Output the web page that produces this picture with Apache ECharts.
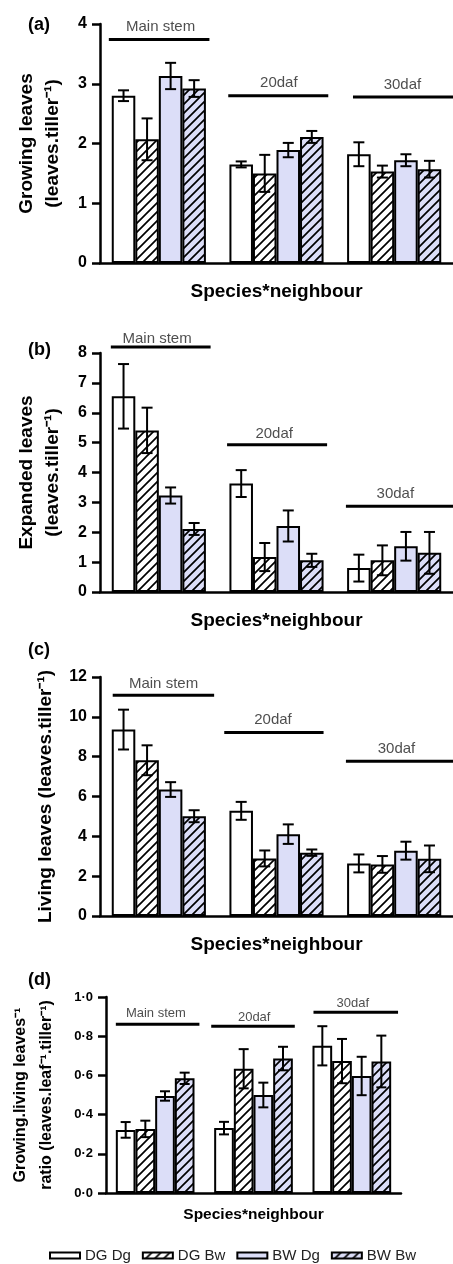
<!DOCTYPE html>
<html><head><meta charset="utf-8">
<script src="https://cdn.jsdelivr.net/npm/echarts@6/dist/echarts.min.js"></script>
<style>html,body{margin:0;padding:0;background:#fff}#c{width:453px;height:1264px}</style>
</head><body><div id="c"></div>
<script>
// ---------- DATA ----------
const categories = ['Main stem', '20daf', '30daf'];
const treatments = ['DG Dg', 'DG Bw', 'BW Dg', 'BW Bw'];

// (a) Growing leaves (per treatment, per category)
const growingMean = [[2.80, 1.65, 1.82], [2.07, 1.50, 1.53], [3.13, 1.89, 1.72], [2.92, 2.11, 1.57]];
const growingErr  = [[0.09, 0.05, 0.20], [0.35, 0.31, 0.10], [0.22, 0.12, 0.10], [0.14, 0.10, 0.14]];
// (b) Expanded leaves
const expandedMean = [[6.55, 3.63, 0.80], [5.41, 1.17, 1.06], [3.23, 2.21, 1.53], [2.11, 1.06, 1.31]];
const expandedErr  = [[1.08, 0.45, 0.45], [0.76, 0.47, 0.50], [0.27, 0.52, 0.48], [0.20, 0.22, 0.70]];
// (c) Living leaves
const livingMean = [[9.36, 5.28, 2.64], [7.82, 2.89, 2.59], [6.35, 4.11, 3.28], [5.01, 3.18, 2.87]];
const livingErr  = [[1.00, 0.45, 0.45], [0.75, 0.40, 0.42], [0.37, 0.49, 0.45], [0.30, 0.16, 0.67]];
// (d) Growing / living ratio
const ratioMean = [[0.322, 0.331, 0.751], [0.327, 0.634, 0.673], [0.495, 0.500, 0.597], [0.585, 0.686, 0.671]];
const ratioErr  = [[0.040, 0.032, 0.100], [0.042, 0.100, 0.113], [0.024, 0.063, 0.098], [0.029, 0.060, 0.132]];

// y-axis ranges [max, interval]
const yRangeA = [4, 1];
const yRangeB = [8, 1];
const yRangeC = [12, 2];
const yRangeD = [1, 0.2];

// group marker lines [start, end, y] on a 0..3 category-width scale, and label centers [x, y]
const groupLinesA = [[0.075, 0.93, 3.74], [1.09, 1.94, 2.80], [2.15, 3.0, 2.78]];
const groupTextA  = [[0.515, 3.955], [1.52, 3.01], [2.57, 2.98]];
const groupLinesB = [[0.092, 0.94, 8.20], [1.08, 1.93, 4.93], [2.09, 3.0, 2.87]];
const groupTextB  = [[0.485, 8.48], [1.48, 5.30], [2.51, 3.27]];
const groupLinesC = [[0.108, 0.97, 11.08], [1.056, 1.90, 9.21], [2.09, 3.0, 7.77]];
const groupTextC  = [[0.54, 11.67], [1.47, 9.83], [2.52, 8.41]];
const groupLinesD = [[0.10, 0.95, 0.861], [1.07, 1.92, 0.851], [2.11, 2.97, 0.922]];
const groupTextD  = [[0.507, 0.915], [1.507, 0.895], [2.51, 0.966]];

// ---------- STYLE ----------
const FONT = 'Liberation Sans, Arial, sans-serif';
const LAV = '#dcdef8';
function hatch(bg) {
  const s = 9, c = document.createElement('canvas');
  c.width = s; c.height = s;
  const g = c.getContext('2d');
  g.fillStyle = bg; g.fillRect(0, 0, s, s);
  g.strokeStyle = '#000'; g.lineWidth = 1.7;
  g.beginPath();
  g.moveTo(-1, s + 1); g.lineTo(s + 1, -1);
  g.moveTo(-2, 2); g.lineTo(2, -2);
  g.moveTo(s - 2, s + 2); g.lineTo(s + 2, s - 2);
  g.stroke();
  return { image: c, repeat: 'repeat' };
}
const fills = ['#ffffff', hatch('#ffffff'), LAV, hatch(LAV)];

const panels = [
  { mean: growingMean, err: growingErr, range: yRangeA, lines: groupLinesA, text: groupTextA,
    grid: { left: 100, top: 24, width: 361, height: 239 }, name: 'Growing leaves\n(leaves.tiller\u207B\u00B9)',
    nameSize: 19, nameGap: 34, lh: 26, tickSize: 16, gSize: 15, xSize: 19, xGap: 19, letter: '(a)', ly: 16, cap: 11 },
  { mean: expandedMean, err: expandedErr, range: yRangeB, lines: groupLinesB, text: groupTextB,
    grid: { left: 100, top: 353, width: 361, height: 239 }, name: 'Expanded leaves\n(leaves.tiller\u207B\u00B9)',
    nameSize: 19, nameGap: 34, lh: 26, tickSize: 16, gSize: 15, xSize: 19, xGap: 19, letter: '(b)', ly: 341, cap: 11 },
  { mean: livingMean, err: livingErr, range: yRangeC, lines: groupLinesC, text: groupTextC,
    grid: { left: 100, top: 677, width: 361, height: 239 }, name: 'Living leaves (leaves.tiller\u207B\u00B9)',
    nameSize: 19, nameGap: 40, lh: 26, tickSize: 16, gSize: 15, xSize: 19, xGap: 19, letter: '(c)', ly: 641, cap: 11,
    fmt: null },
  { mean: ratioMean, err: ratioErr, range: yRangeD, lines: groupLinesD, text: groupTextD,
    grid: { left: 101, top: 997, width: 300, height: 196 }, name: 'Growing.living leaves\u207B\u00B9\nratio (leaves.leaf\u207B\u00B9.tiller\u207B\u00B9)',
    nameSize: 16, nameGap: 46, lh: 26, tickSize: 13, gSize: 13, xSize: 15.5, xGap: 14, letter: '(d)', ly: 971, cap: 10,
    fmt: v => v.toFixed(1).replace('.', '\u00B7') }
];

function errRender(cap) {
  return function (params, api) {
    const c = api.value(0), s = api.value(1), lo = api.value(2), hi = api.value(3);
    const band = api.size([1, 0])[0];
    const bw = band * 0.8 / 4;
    const pHi = api.coord([c, hi]), pLo = api.coord([c, lo]);
    const x = pHi[0] + (s - 1.5) * bw;
    const st = { stroke: '#000', lineWidth: 2 };
    return { type: 'group', children: [
      { type: 'line', shape: { x1: x, y1: pHi[1], x2: x, y2: pLo[1] }, style: st },
      { type: 'line', shape: { x1: x - cap / 2, y1: pHi[1], x2: x + cap / 2, y2: pHi[1] }, style: st },
      { type: 'line', shape: { x1: x - cap / 2, y1: pLo[1], x2: x + cap / 2, y2: pLo[1] }, style: st }
    ] };
  };
}
function lineRender(params, api) {
  const p0 = api.coord([api.value(0), api.value(2)]);
  const p1 = api.coord([api.value(1), api.value(2)]);
  return { type: 'line', shape: { x1: p0[0], y1: p0[1], x2: p1[0], y2: p1[1] }, style: { stroke: '#000', lineWidth: 3 } };
}

const grid = [], xAxis = [], yAxis = [], series = [], graphic = [];
panels.forEach((p, i) => {
  grid.push(p.grid);
  xAxis.push({ type: 'category', gridIndex: i, data: categories,
    name: 'Species*neighbour', nameLocation: 'middle', nameGap: p.xGap,
    nameTextStyle: { fontFamily: FONT, fontWeight: 'bold', fontSize: p.xSize, color: '#000' },
    axisLine: { lineStyle: { color: '#000', width: 2.5 } },
    axisTick: { alignWithLabel: true, length: 8, lineStyle: { color: '#000', width: 2 } },
    axisLabel: { show: false }, splitLine: { show: false } });
  xAxis.push({ type: 'value', gridIndex: i, min: 0, max: 3, show: false });
  yAxis.push({ type: 'value', gridIndex: i, min: 0, max: p.range[0], interval: p.range[1],
    name: p.name, nameLocation: 'middle', nameRotate: 90, nameGap: p.nameGap,
    nameTextStyle: { fontFamily: FONT, fontWeight: 'bold', fontSize: p.nameSize, color: '#000', lineHeight: p.lh },
    axisLine: { show: true, lineStyle: { color: '#000', width: 2.5 } },
    axisTick: { show: true, length: 8, lineStyle: { color: '#000', width: 2.5 } },
    axisLabel: { fontFamily: FONT, fontWeight: 'bold', fontSize: p.tickSize, color: '#000', margin: 13,
      formatter: p.fmt || undefined },
    splitLine: { show: false } });
  treatments.forEach((t, s) => {
    series.push({ type: 'bar', name: t, xAxisIndex: 2 * i, yAxisIndex: i, data: p.mean[s],
      barGap: '0%', barCategoryGap: '20%',
      itemStyle: { color: fills[s], borderColor: '#000', borderWidth: 2 }, silent: true });
  });
  const errData = [];
  treatments.forEach((t, s) => p.mean[s].forEach((m, c) => errData.push([c, s, m - p.err[s][c], m + p.err[s][c]])));
  series.push({ type: 'custom', xAxisIndex: 2 * i, yAxisIndex: i, renderItem: errRender(p.cap),
    data: errData, encode: { x: 0, y: [2, 3] }, z: 5, silent: true });
  series.push({ type: 'custom', xAxisIndex: 2 * i + 1, yAxisIndex: i, renderItem: lineRender,
    data: p.lines, encode: { x: [0, 1], y: 2 }, z: 5, silent: true, clip: false });
  series.push({ type: 'scatter', xAxisIndex: 2 * i + 1, yAxisIndex: i, symbolSize: 1, clip: false, silent: true,
    itemStyle: { color: 'rgba(0,0,0,0)' },
    label: { show: true, position: 'inside', formatter: '{b}', fontFamily: FONT, fontSize: p.gSize, color: '#222' },
    data: categories.map((c, k) => ({ name: c, value: p.text[k] })) });
  graphic.push({ type: 'text', left: 28, top: p.ly,
    style: { text: p.letter, font: 'bold 18px ' + FONT, fill: '#000' } });
});

const chart = echarts.init(document.getElementById('c'));
chart.setOption({
  animation: false,
  backgroundColor: '#fff',
  grid, xAxis, yAxis, series, graphic,
  legend: { data: treatments, left: 44, top: 1243, icon: 'rect', itemWidth: 30, itemHeight: 6, itemGap: 11,
    textStyle: { fontFamily: FONT, fontSize: 15, color: '#222' } }
});
</script></body></html>
